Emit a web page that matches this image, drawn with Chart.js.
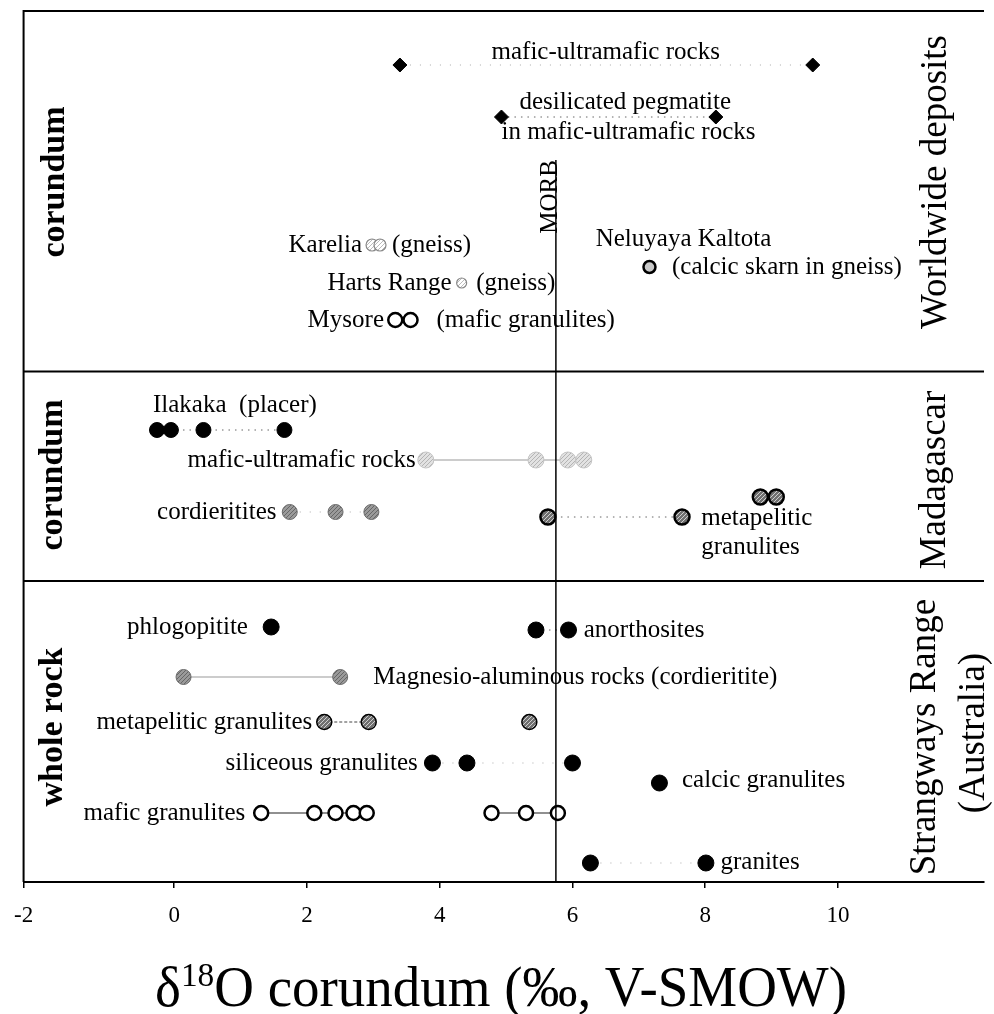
<!DOCTYPE html>
<html>
<head>
<meta charset="utf-8">
<script src="https://cdn.jsdelivr.net/npm/chart.js@4.4.1/dist/chart.umd.min.js"></script>
<style>
  html, body { margin: 0; padding: 0; background: #fff; }
  canvas { display: block; }
</style>
</head>
<body>
<canvas id="isoChart" width="994" height="1014"></canvas>
<script>
// x axis : delta 18O (permil, V-SMOW)
const xMin = -2.27;
const xMax = 12.2;
const xTickValues = [xMin, 0, 2, 4, 6, 8, 10];
const xTickLabels = ["-2", "0", "2", "4", "6", "8", "10"];
const morbValue = 5.75;

// vertical levels of the rows (arbitrary units, bottom = 0)
const yMin = 0;
const yMax = 87.1;
const panelBreaks = [51.05, 30.1];

// Worldwide deposits (corundum)
const wwMaficUltramafic = [3.40, 9.62];
const wwDesilicated = [4.93, 8.16];
const wwKarelia = [2.98, 3.10];
const wwNeluyaya = [7.16];
const wwHartsRange = [4.33];
const wwMysore = [3.33, 3.56];

// Madagascar (corundum)
const mgIlakaka = [-0.26, -0.05, 0.44, 1.66];
const mgMaficUltramafic = [3.79, 5.45, 5.93, 6.17];
const mgCordieritites = [1.74, 2.43, 2.97];
const mgMetapelitic = [5.63, 7.65];
const mgMetapeliticHigh = [8.83, 9.07];

// Strangways Range, Australia (whole rock)
const srPhlogopitite = [1.46];
const srAnorthosites = [5.45, 5.94];
const srMagnesio = [0.14, 2.50];
const srMetapelitic = [2.26, 2.93];
const srMetapeliticHigh = [5.35];
const srSiliceous = [3.89, 4.41, 6.00];
const srCalcic = [7.31];
const srMaficLow = [1.31, 2.11, 2.43, 2.70, 2.90];
const srMaficHigh = [4.78, 5.30, 5.78];
const srGranites = [6.27, 8.01];

// row levels
const rowWwUltra = 81.7, rowWwDesil = 76.5, rowKarelia = 63.7, rowNeluyaya = 61.5,
  rowHarts = 59.9, rowMysore = 56.2;
const rowIlakaka = 45.2, rowMgUltra = 42.2, rowMgMetaHigh = 38.5, rowCordier = 37.0,
  rowMgMeta = 36.5;
const rowPhlog = 25.5, rowAnorth = 25.2, rowMagnesio = 20.5, rowSrMeta = 16.0,
  rowSiliceous = 11.9, rowCalcic = 9.9, rowMafic = 6.9, rowGranites = 1.9;

const serif = "'Liberation Serif', 'Times New Roman', serif";

// hatched fill like the scanned symbols
function hatch(base, stroke) {
  let c = document.createElement("canvas");
  c.width = 4;
  c.height = 4;
  let g = c.getContext("2d");
  g.fillStyle = base;
  g.fillRect(0, 0, 4, 4);
  g.strokeStyle = stroke;
  g.lineWidth = 1;
  g.beginPath();
  g.moveTo(0, 4);
  g.lineTo(4, 0);
  g.stroke();
  return g.createPattern(c, "repeat");
}

function row(xs, y) {
  return xs.map(function (x) { return { x: x, y: y }; });
}

function series(xs, y, s) {
  return {
    data: row(xs, y),
    showLine: !!s.line,
    borderColor: s.line ? s.line.color : "transparent",
    borderWidth: s.line ? s.line.width : 0,
    borderDash: s.line ? s.line.dash : [],
    pointStyle: s.shape || "circle",
    pointRadius: s.r,
    pointBackgroundColor: s.fill,
    pointBorderColor: s.edge,
    pointBorderWidth: s.edgeWidth,
  };
}

const dotted = { color: "#666", width: 1, dash: [1.5, 5] };
const faint = { color: "#aaa", width: 1, dash: [1, 9] };
const thinGray = { color: "#999", width: 1, dash: [] };
const thinBlack = { color: "#222", width: 1.2, dash: [] };

const black = { r: 8, fill: "#000", edge: "#000", edgeWidth: 1 };
const openRing = { r: 7, fill: "#fff", edge: "#000", edgeWidth: 2.5 };
const diamond = { shape: "rectRot", r: 7, fill: "#000", edge: "#000", edgeWidth: 1 };
const lightHatch = { r: 8, fill: hatch("#e2e2e2", "#b4b4b4"), edge: "#c4c4c4", edgeWidth: 1 };
const midHatch = { r: 7.5, fill: hatch("#9a9a9a", "#666"), edge: "#6a6a6a", edgeWidth: 1 };
const darkHatch = { r: 7.5, fill: hatch("#707070", "#cfcfcf"), edge: "#000", edgeWidth: 2.5 };

const datasets = [
  // MORB reference line
  {
    data: [{ x: morbValue, y: yMin }, { x: morbValue, y: 72.2 }],
    showLine: true,
    borderColor: "#000",
    borderWidth: 1.5,
    pointRadius: 0,
  },
  series(wwMaficUltramafic, rowWwUltra, Object.assign({ line: faint }, diamond)),
  series(wwDesilicated, rowWwDesil, Object.assign({ line: dotted }, diamond)),
  series(wwKarelia, rowKarelia, { r: 6, fill: hatch("#fff", "#bbb"), edge: "#888", edgeWidth: 1.2 }),
  series(wwNeluyaya, rowNeluyaya, { r: 6, fill: "#c8c8c8", edge: "#000", edgeWidth: 2.5 }),
  series(wwHartsRange, rowHarts, { r: 5, fill: hatch("#fff", "#bbb"), edge: "#888", edgeWidth: 1.2 }),
  series(wwMysore, rowMysore, openRing),
  series(mgIlakaka, rowIlakaka, Object.assign({ line: dotted }, black, { r: 7.5 })),
  series(mgMaficUltramafic, rowMgUltra, Object.assign({ line: thinGray }, lightHatch)),
  series(mgCordieritites, rowCordier, Object.assign({ line: faint }, midHatch)),
  series(mgMetapelitic, rowMgMeta, Object.assign({ line: dotted }, darkHatch)),
  series(mgMetapeliticHigh, rowMgMetaHigh, darkHatch),
  series(srPhlogopitite, rowPhlog, black),
  series(srAnorthosites, rowAnorth, Object.assign({ line: dotted }, black)),
  series(srMagnesio, rowMagnesio, Object.assign({ line: thinGray }, midHatch)),
  series(srMetapelitic, rowSrMeta, Object.assign({ line: { color: "#444", width: 1, dash: [3, 2] } }, darkHatch, { edgeWidth: 1.5 })),
  series(srMetapeliticHigh, rowSrMeta, Object.assign({}, darkHatch, { edgeWidth: 1.5 })),
  series(srSiliceous, rowSiliceous, Object.assign({ line: faint }, black)),
  series(srCalcic, rowCalcic, black),
  series(srMaficLow, rowMafic, Object.assign({ line: thinBlack }, openRing)),
  series(srMaficHigh, rowMafic, Object.assign({ line: thinBlack }, openRing)),
  series(srGranites, rowGranites, Object.assign({ line: faint }, black)),
];

// text placed in data units: [text, x, y, align]
const rowLabels = [
  ["mafic-ultramafic rocks", 4.78, 83.0, "left"],
  ["desilicated pegmatite", 5.20, 78.0, "left"],
  ["in mafic-ultramafic rocks", 4.93, 75.0, "left"],
  ["Neluyaya Kaltota", 6.35, 64.3, "left"],
  ["(calcic skarn in gneiss)", 7.50, 61.5, "left"],
  ["Karelia", 2.83, rowKarelia, "right"],
  ["(gneiss)", 3.28, rowKarelia, "left"],
  ["Harts Range", 4.18, rowHarts, "right"],
  ["(gneiss)", 4.55, rowHarts, "left"],
  ["Mysore", 3.16, rowMysore, "right"],
  ["(mafic granulites)", 3.95, rowMysore, "left"],
  ["Ilakaka  (placer)", -0.32, 47.7, "left"],
  ["mafic-ultramafic rocks", 3.64, rowMgUltra, "right"],
  ["cordieritites", 1.54, rowCordier, "right"],
  ["metapelitic", 7.94, 36.4, "left"],
  ["granulites", 7.94, 33.5, "left"],
  ["phlogopitite", 1.11, rowPhlog, "right"],
  ["anorthosites", 6.17, rowAnorth, "left"],
  ["Magnesio-aluminous rocks (cordieritite)", 3.00, rowMagnesio, "left"],
  ["metapelitic granulites", 2.08, rowSrMeta, "right"],
  ["siliceous granulites", 3.67, rowSiliceous, "right"],
  ["calcic granulites", 7.65, 10.2, "left"],
  ["mafic granulites", 1.07, rowMafic, "right"],
  ["granites", 8.23, 2.0, "left"],
];

// vertical texts: [text, x, y, font]
const sideLabels = [
  ["corundum", -1.79, 70.0, "bold 34px " + serif],
  ["corundum", -1.83, 40.7, "bold 34px " + serif],
  ["whole rock", -1.83, 15.5, "bold 34px " + serif],
  ["Worldwide deposits", 11.48, 70.0, "37px " + serif],
  ["Madagascar", 11.46, 40.2, "37px " + serif],
  ["Strangways Range", 11.32, 14.5, "37px " + serif],
  ["(Australia)", 12.06, 14.9, "37px " + serif],
  ["MORB", 5.67, 68.5, "25px " + serif],
];

const figureText = {
  id: "figureText",
  beforeDatasetsDraw(chart) {
    let ctx = chart.ctx;
    let area = chart.chartArea;
    let ys = chart.scales.y;
    ctx.save();
    ctx.strokeStyle = "#000";
    ctx.lineWidth = 2;
    ctx.beginPath();
    ctx.moveTo(area.left, area.bottom);
    ctx.lineTo(area.left, area.top);
    ctx.lineTo(area.right, area.top);
    panelBreaks.forEach(function (v) {
      let py = ys.getPixelForValue(v);
      ctx.moveTo(area.left, py);
      ctx.lineTo(area.right, py);
    });
    ctx.stroke();
    ctx.restore();
  },
  afterDatasetsDraw(chart) {
    let ctx = chart.ctx;
    let xs = chart.scales.x;
    let ys = chart.scales.y;
    ctx.save();
    ctx.fillStyle = "#000";
    ctx.textBaseline = "middle";
    ctx.font = "25px " + serif;
    rowLabels.forEach(function (l) {
      ctx.textAlign = l[3];
      ctx.fillText(l[0], xs.getPixelForValue(l[1]), ys.getPixelForValue(l[2]));
    });
    ctx.textAlign = "center";
    sideLabels.forEach(function (l) {
      ctx.save();
      ctx.translate(xs.getPixelForValue(l[1]), ys.getPixelForValue(l[2]));
      ctx.rotate(-Math.PI / 2);
      ctx.font = l[3];
      ctx.fillText(l[0], 0, 0);
      ctx.restore();
    });

    // axis title with superscript
    let big = "56px " + serif;
    let small = "34px " + serif;
    let parts = [["\u03b4", big, 0], ["18", small, -20], ["O corundum (\u2030, V-SMOW)", big, 0]];
    let total = 0;
    parts.forEach(function (p) { ctx.font = p[1]; total += ctx.measureText(p[0]).width; });
    let squeeze = 692 / total;
    ctx.translate(155, 1006);
    ctx.scale(squeeze, 1);
    ctx.textAlign = "left";
    ctx.textBaseline = "alphabetic";
    let px = 0;
    parts.forEach(function (p) {
      ctx.font = p[1];
      ctx.fillText(p[0], px, p[2]);
      px += ctx.measureText(p[0]).width;
    });
    ctx.restore();
  },
};

new Chart("isoChart", {
  type: "scatter",
  data: { datasets: datasets },
  options: {
    responsive: false,
    animation: false,
    devicePixelRatio: 1,
    layout: { padding: { top: 11, left: 22, right: 0, bottom: 0 } },
    plugins: { legend: { display: false }, tooltip: { enabled: false } },
    scales: {
      x: {
        type: "linear",
        min: xMin,
        max: xMax,
        afterBuildTicks: function (scale) {
          scale.ticks = xTickValues.map(function (v) { return { value: v }; });
        },
        afterFit: function (scale) {
          scale.height = 132;
        },
        ticks: {
          padding: 14,
          color: "#000",
          font: { family: serif, size: 23 },
          callback: function (value, index) {
            return xTickLabels[index];
          },
        },
        grid: { drawOnChartArea: false, drawTicks: true, tickLength: 6, color: "#000", lineWidth: 1.5 },
        border: { color: "#000", width: 2 },
      },
      y: {
        type: "linear",
        display: false,
        min: yMin,
        max: yMax,
      },
    },
  },
  plugins: [figureText],
});
</script>
</body>
</html>
